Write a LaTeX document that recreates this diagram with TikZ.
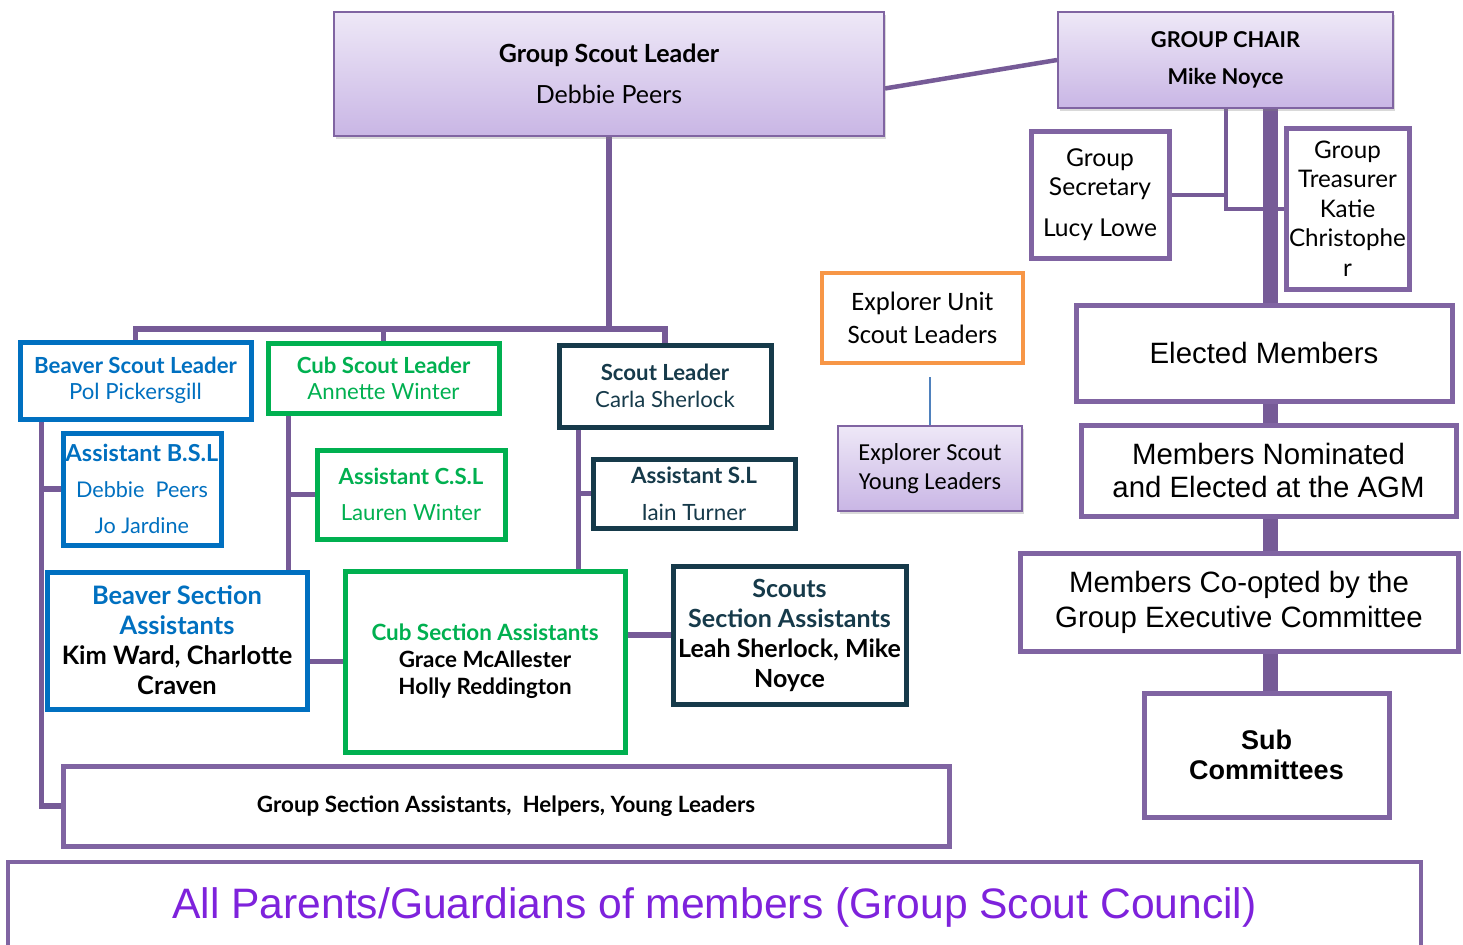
\documentclass[tikz,border=0pt]{standalone}
\usepackage{fontspec}
\setmainfont{Lato}
\newfontfamily\calibri{Carlito}
\newfontfamily\arial{Liberation Sans}
\usetikzlibrary{fit,backgrounds,shadows}

\definecolor{linkpurple}{RGB}{118,91,151}
\definecolor{boxpurple}{RGB}{128,100,162}
\definecolor{lavtop}{RGB}{238,232,247}
\definecolor{lavbot}{RGB}{201,182,229}
\definecolor{beaverblue}{RGB}{0,112,192}
\definecolor{cubgreen}{RGB}{0,176,80}
\definecolor{scoutteal}{RGB}{22,58,74}
\definecolor{exorange}{RGB}{247,150,70}
\definecolor{exblue}{RGB}{79,129,189}
\definecolor{parentpurple}{RGB}{126,34,220}

\begin{document}
\begin{tikzpicture}[x=0.5pt,y=-0.5pt,
  link/.style={draw=linkpurple, line width=2.75pt},
  bar/.style={draw=linkpurple, line width=7.5pt},
  box/.style={draw, line width=2.5pt, fill=white, inner sep=0pt},
  pbox/.style={box, draw=boxpurple},
  lavbox/.style={draw=boxpurple, line width=1pt, top color=lavtop, bottom color=lavbot, inner sep=0pt,
    drop shadow={opacity=0.3, shadow xshift=1pt, shadow yshift=-1.5pt}},
  txt/.style={align=center, inner sep=0pt}]
\useasboundingbox (0,0) rectangle (1463,944);

%Shape: Box [Group Scout Leader]
\node[lavbox, fit={(334,12) (884,136)}] (gsl) {};
%Shape: Box [Group Chair]
\node[lavbox, fit={(1058,12) (1393,108)}] (chair) {};
%Shape: Box [Secretary]
\node[pbox, fit={(1031,131) (1169,258)}] (sec) {};
%Shape: Box [Treasurer]
\node[pbox, fit={(1286,128) (1409,289)}] (treas) {};
%Shape: Box [Explorers]
\node[box, draw=exorange, line width=2pt, fit={(822,273) (1023,363)}] (eusl) {};
\node[lavbox, fit={(838,426) (1022,511)}] (esyl) {};
%Shape: Box [Executive]
\node[pbox, fit={(1076,305) (1452,401)}] (elect) {};
\node[pbox, fit={(1081,425) (1456,516)}] (agm) {};
\node[pbox, fit={(1020,553) (1458,651)}] (coopt) {};
\node[pbox, fit={(1144,693) (1389,817)}] (subc) {};
%Shape: Box [Beavers]
\node[box, draw=beaverblue, fit={(20,342) (251,419)}] (bsl) {};
\node[box, draw=beaverblue, fit={(63,433) (221,545)}] (absl) {};
\node[box, draw=beaverblue, fit={(47,572) (307,709)}] (bsa) {};
%Shape: Box [Cubs]
\node[box, draw=cubgreen, fit={(268,343) (499,413)}] (csl) {};
\node[box, draw=cubgreen, fit={(317,450) (505,539)}] (acsl) {};
\node[box, draw=cubgreen, fit={(345,571) (625,752)}] (csa) {};
%Shape: Box [Scouts]
\node[box, draw=scoutteal, fit={(559,345) (771,427)}] (sl) {};
\node[box, draw=scoutteal, fit={(593,459) (795,528)}] (asl) {};
\node[box, draw=scoutteal, fit={(673,566) (906,704)}] (ssa) {};
%Shape: Box [Group Section Assistants]
\node[pbox, fit={(63,766) (949,846)}] (gsa) {};
%Shape: Box [Parents]
\node[pbox, line width=2pt, fit={(8,862) (1421,952)}] (parents) {};

% Text Node
\node[txt, font=\fontsize{12.5}{20.5}\selectfont] (gsl-t) at (gsl) {\textbf{Group Scout Leader}\\Debbie Peers};
% Text Node
\node[txt, font=\bfseries\fontsize{10.9}{18.5}\selectfont] (chair-t) at (chair) {GROUP CHAIR\\Mike Noyce};
% Text Node
\node[txt, font=\fontsize{12.3}{14.5}\selectfont] (sec-t) at (sec) {Group\\Secretary\\[6pt]Lucy Lowe};
% Text Node
\node[txt, font=\fontsize{12.1}{14.75}\selectfont] (treas-t) at (treas) {Group\\Treasurer\\Katie\\Christophe\\r};
% Text Node
\node[txt, font=\calibri\fontsize{13.3}{16.5}\selectfont] (eusl-t) at (eusl) {Explorer Unit\\Scout Leaders};
% Text Node
\node[txt, font=\calibri\fontsize{12.2}{14.5}\selectfont] (esyl-t) at (esyl) {Explorer Scout\\Young Leaders};
% Text Node
\node[txt, font=\arial\fontsize{14.7}{16.5}\selectfont] (elect-t) at (elect) {Elected Members};
% Text Node
\node[txt, font=\arial\fontsize{14.7}{16.5}\selectfont] (agm-t) at (agm) {Members Nominated\\and Elected at the AGM};
% Text Node
\node[txt, font=\arial\fontsize{14.7}{17.5}\selectfont] (coopt-t) at (coopt) {Members Co-opted by the\\Group Executive Committee};
% Text Node
\node[txt, font=\arial\bfseries\fontsize{13.5}{15}\selectfont] (subc-t) at (subc) {Sub\\Committees};
% Text Node
\node[txt, text=beaverblue, font=\fontsize{11.1}{13}\selectfont] (bsl-t) at (bsl) {\textbf{Beaver Scout Leader}\\Pol Pickersgill};
% Text Node
\node[txt, text=beaverblue, font=\fontsize{10.8}{18}\selectfont] (absl-t) at (absl) {\textbf{\fontsize{11.7}{18}\selectfont Assistant B.S.L}\\Debbie\ \ Peers\\Jo Jardine};
% Text Node
\node[txt, font=\bfseries\fontsize{12.7}{15}\selectfont] (bsa-t) at (bsa) {\textcolor{beaverblue}{Beaver Section}\\\textcolor{beaverblue}{Assistants}\\Kim Ward, Charlotte\\Craven};
% Text Node
\node[txt, text=cubgreen, font=\fontsize{11.1}{13}\selectfont] (csl-t) at (csl) {\textbf{Cub Scout Leader}\\Annette Winter};
% Text Node
\node[txt, text=cubgreen, font=\fontsize{11.1}{18}\selectfont] (acsl-t) at (acsl) {\textbf{Assistant C.S.L}\\Lauren Winter};
% Text Node
\node[txt, font=\bfseries\fontsize{11.2}{13.5}\selectfont] (csa-t) at (csa) {\textcolor{cubgreen}{Cub Section Assistants}\\Grace McAllester\\Holly Reddington};
% Text Node
\node[txt, text=scoutteal, font=\fontsize{11.1}{13.5}\selectfont] (sl-t) at (sl) {\textbf{Scout Leader}\\Carla Sherlock};
% Text Node
\node[txt, text=scoutteal, font=\fontsize{11.2}{18.5}\selectfont] (asl-t) at (asl) {\textbf{Assistant S.L}\\Iain Turner};
% Text Node
\node[txt, font=\bfseries\fontsize{12.5}{15}\selectfont] (ssa-t) at (ssa) {\textcolor{scoutteal}{Scouts}\\\textcolor{scoutteal}{Section Assistants}\\Leah Sherlock, Mike\\Noyce};
% Text Node
\node[txt, font=\bfseries\fontsize{11.2}{12}\selectfont] (gsa-t) at (gsa) {Group Section Assistants,\ \ Helpers, Young Leaders};
% Text Node
\node[txt, text=parentpurple, font=\arial\fontsize{21.3}{24}\selectfont] (parents-t) at (parents) {All Parents/Guardians of members (Group Scout Council)};

\begin{scope}[on background layer]
%Straight Lines [chair side]
\draw[link, line width=2.25pt] (gsl.-3.3) -- (chair.west);
\draw[link, line width=2pt] (chair.south) |- (treas.west);
\draw[link, line width=2pt] (sec.east) -- (sec.east -| chair.south);
\coordinate (bartop) at (1270,108);
\draw[bar] (bartop) -- (bartop |- subc.north);
\draw[draw=exblue, line width=0.75pt] ([yshift=-6pt]eusl.south -| esyl.north) -- (esyl.north);

%Straight Lines [sections]
\coordinate (hub) at (609,329);
\draw[link] (gsl.south) -- (hub);
\draw[link] (bsl.north) |- (hub) -| (sl.north);
\draw[link] (csl.north) -- (csl.north |- hub);
\coordinate (btrunk) at ([xshift=12pt]bsl.south west);
\draw[link] (btrunk) |- (gsa.west);
\draw[link] (absl.west) -- (absl.west -| btrunk);
\coordinate (ctrunk) at ([xshift=11.5pt]csl.south west);
\draw[link] (ctrunk) -- (ctrunk |- bsa.north);
\draw[link] (acsl.west) -- (acsl.west -| ctrunk);
\coordinate (strunk) at ([xshift=11pt]sl.south west);
\draw[link] (strunk) -- (strunk |- csa.north);
\draw[link] (asl.west) -- (asl.west -| strunk);
\draw[link] (csa.west) -- (csa.west -| bsa.east);
\draw[link] (ssa.west) -- (ssa.west -| csa.east);
\end{scope}

\end{tikzpicture}
\end{document}
